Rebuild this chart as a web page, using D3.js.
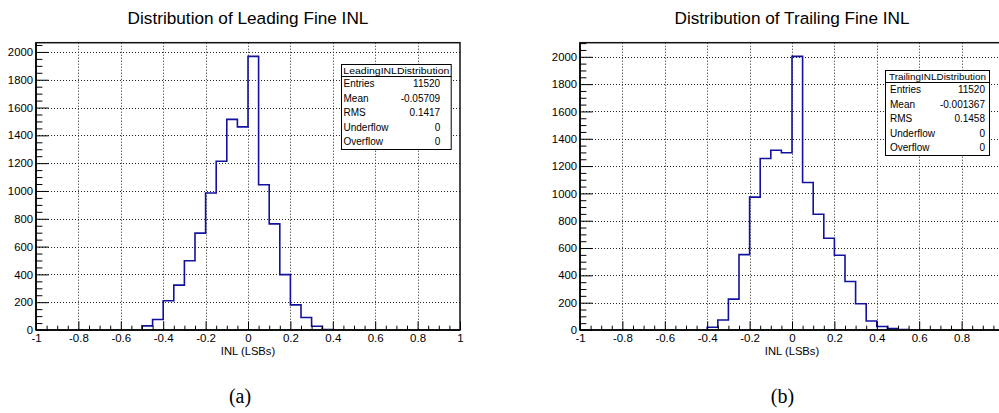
<!DOCTYPE html>
<html>
<head>
<meta charset="utf-8">
<script src="https://cdn.jsdelivr.net/npm/d3@7"></script>
<style>
  body { margin: 0; background: #fff; }
  svg { display: block; font-family: "Liberation Sans", Arial, Helvetica, sans-serif; }
</style>
</head>
<body>
<svg id="chart" width="999" height="413"></svg>
<script>
// ---- Histogram contents: 40 bins of width 0.05 covering [-1, 1] ----
const binLow = -1;
const binWidth = 0.05;

const leadingCounts = [
  0, 0, 0, 0, 0, 0, 0, 0, 0, 0,
  30, 76, 210, 323, 498, 697, 985, 1214, 1515, 1461,
  1968, 1045, 763, 398, 181, 90, 27, 4, 0, 0,
  0, 0, 0, 0, 0, 0, 0, 0, 0, 0
];

const trailingCounts = [
  0, 0, 0, 0, 0, 0, 0, 0, 0, 0,
  0, 0, 20, 73, 226, 552, 973, 1255, 1316, 1297,
  2003, 1080, 847, 672, 547, 355, 192, 66, 26, 10,
  3, 0, 0, 0, 0, 0, 0, 0, 0, 0
];

// ---- Statistics boxes ----
const statLabels = ["Entries", "Mean", "RMS", "Underflow", "Overflow"];
const leadingStats = ["11520", "-0.05709", "0.1417", "0", "0"];
const trailingStats = ["11520", "-0.001367", "0.1458", "0", "0"];

// ---- Axis ticks ----
const xTicks = [-1, -0.8, -0.6, -0.4, -0.2, 0, 0.2, 0.4, 0.6, 0.8, 1];
const xTickLabels = ["-1", "-0.8", "-0.6", "-0.4", "-0.2", "0", "0.2", "0.4", "0.6", "0.8", "1"];
const yTicks = [0, 200, 400, 600, 800, 1000, 1200, 1400, 1600, 1800, 2000];

const titles = ["Distribution of Leading Fine INL", "Distribution of Trailing Fine INL"];
const statNames = ["LeadingINLDistribution", "TrailingINLDistribution"];
const xTitle = "INL (LSBs)";
const captions = ["(a)", "(b)"];

const W = 999;
const svg = d3.select("#chart");

const panels = [
  {
    counts: leadingCounts, stats: leadingStats, title: titles[0], statName: statNames[0], caption: captions[0],
    left: 36, right: 460, top: 42.7, bottom: 330, captionX: 240,
    box: { x: 341, y: 64, w: 109.7, h: 85, titleH: 12, titleLen: 106, labelX: 2.5, valueR: 10.5 }
  },
  {
    counts: trailingCounts, stats: trailingStats, title: titles[1], statName: statNames[1], caption: captions[1],
    left: 580, right: 1004, top: 42.7, bottom: 330, captionX: 782.5,
    box: { x: 885, y: 70, w: 104, h: 85, titleH: 12, titleLen: 97, labelX: 5, valueR: 4 }
  }
];

panels.forEach(p => {
  const g = svg.append("g");
  const nBins = p.counts.length;
  const xMax = binLow + nBins * binWidth;

  const x = d3.scaleLinear().domain([binLow, xMax]).range([p.left, p.right]);
  const yMax = 1.05 * d3.max(p.counts);
  const y = d3.scaleLinear().domain([0, yMax]).range([p.bottom, p.top]);

  // Title
  g.append("text")
    .attr("x", (p.left + p.right) / 2)
    .attr("y", 24)
    .attr("text-anchor", "middle")
    .attr("font-size", 17.2)
    .attr("fill", "#000")
    .text(p.title);

  // Dotted grid at major ticks
  const grid = g.append("g")
    .attr("stroke", "#222")
    .attr("stroke-width", 1)
    .attr("stroke-dasharray", "1,2");
  grid.selectAll("line.gx")
    .data(xTicks.filter(v => v > binLow && v < xMax))
    .join("line")
    .attr("x1", d => Math.round(x(d)) + 0.5).attr("x2", d => Math.round(x(d)) + 0.5)
    .attr("y1", p.top).attr("y2", p.bottom);
  grid.selectAll("line.gy")
    .data(yTicks.filter(v => v > 0))
    .join("line")
    .attr("x1", p.left).attr("x2", p.right)
    .attr("y1", d => Math.round(y(d)) + 0.5).attr("y2", d => Math.round(y(d)) + 0.5);

  // Step outline of the histogram
  const pts = [[binLow, 0]];
  p.counts.forEach((c, i) => {
    const lo = binLow + i * binWidth;
    pts.push([lo, c], [lo + binWidth, c]);
  });
  pts.push([xMax, 0]);

  // Frame
  g.append("rect")
    .attr("x", p.left).attr("y", p.top)
    .attr("width", p.right - p.left).attr("height", p.bottom - p.top)
    .attr("fill", "none").attr("stroke", "#111").attr("stroke-width", 1.5);

  g.append("path")
    .datum(pts)
    .attr("d", d3.line().x(d => x(d[0])).y(d => y(d[1])))
    .attr("fill", "none")
    .attr("stroke", "#12129e")
    .attr("stroke-width", 1.6);

  // Axis lines (thicker on the labelled sides)
  g.append("line")
    .attr("x1", p.left).attr("x2", p.right).attr("y1", p.bottom).attr("y2", p.bottom)
    .attr("stroke", "#111").attr("stroke-width", 2);
  g.append("line")
    .attr("x1", p.left).attr("x2", p.left).attr("y1", p.top).attr("y2", p.bottom)
    .attr("stroke", "#111").attr("stroke-width", 2);

  // Y axis: major and minor ticks pointing into the frame
  const yAxis = d3.axisLeft(y)
    .tickValues(yTicks)
    .tickSizeInner(-12.7).tickSizeOuter(0).tickPadding(3)
    .tickFormat(d3.format("d"));
  const ya = g.append("g").attr("transform", `translate(${p.left},0)`).call(yAxis);
  ya.select(".domain").remove();
  ya.selectAll("text").attr("font-size", 11.3).attr("fill", "#000")
    .attr("font-family", "Liberation Sans, Arial, sans-serif");
  ya.selectAll("line").attr("stroke", "#000");

  const yMinor = d3.range(0, yMax, 50).filter(v => yTicks.indexOf(v) < 0);
  const ym = g.append("g").attr("transform", `translate(${p.left},0)`)
    .call(d3.axisLeft(y).tickValues(yMinor).tickSizeInner(-6.4).tickSizeOuter(0).tickFormat(""));
  ym.select(".domain").remove();
  ym.selectAll("line").attr("stroke", "#000");

  // X axis: major and minor ticks pointing into the frame
  const xAxis = d3.axisBottom(x)
    .tickValues(xTicks)
    .tickSizeInner(-8.6).tickSizeOuter(0).tickPadding(3.4)
    .tickFormat((d, i) => xTickLabels[i]);
  const xa = g.append("g").attr("transform", `translate(0,${p.bottom})`).call(xAxis);
  xa.select(".domain").remove();
  xa.selectAll("text").attr("font-size", 11.5).attr("fill", "#000")
    .attr("font-family", "Liberation Sans, Arial, sans-serif");
  xa.selectAll("line").attr("stroke", "#000");
  // labels whose tick sits past the drawing edge are not shown
  xa.selectAll(".tick").filter(d => x(d) > W - 2).select("text").remove();

  const xMinor = d3.range(0, nBins + 1).map(i => binLow + i * binWidth)
    .filter(v => !xTicks.some(t => Math.abs(t - v) < 1e-9));
  const xm = g.append("g").attr("transform", `translate(0,${p.bottom})`)
    .call(d3.axisBottom(x).tickValues(xMinor).tickSizeInner(-4.3).tickSizeOuter(0).tickFormat(""));
  xm.select(".domain").remove();
  xm.selectAll("line").attr("stroke", "#000");

  // X axis title
  g.append("text")
    .attr("x", (p.left + p.right) / 2)
    .attr("y", 354.7)
    .attr("text-anchor", "middle")
    .attr("font-size", 11.2)
    .attr("fill", "#000")
    .text(xTitle);

  // Statistics box
  const b = p.box;
  const sb = g.append("g");
  sb.append("rect")
    .attr("x", b.x + 0.5).attr("y", b.y + 0.5).attr("width", b.w).attr("height", b.h)
    .attr("fill", "#fff").attr("stroke", "#000").attr("stroke-width", 1);
  sb.append("line")
    .attr("x1", b.x + 0.5).attr("x2", b.x + b.w + 0.5)
    .attr("y1", b.y + b.titleH + 0.5).attr("y2", b.y + b.titleH + 0.5)
    .attr("stroke", "#000").attr("stroke-width", 1);
  sb.append("text")
    .attr("x", b.x + b.w / 2 + 0.5)
    .attr("y", b.y + 9.6)
    .attr("text-anchor", "middle")
    .attr("font-size", 9.6)
    .attr("textLength", b.titleLen)
    .attr("lengthAdjust", "spacingAndGlyphs")
    .attr("fill", "#000")
    .text(p.statName);
  const rowH = (b.h - b.titleH) / statLabels.length;
  statLabels.forEach((lab, i) => {
    const cy = b.y + b.titleH + rowH * (i + 0.5);
    sb.append("text")
      .attr("x", b.x + b.labelX)
      .attr("y", cy + 3.6)
      .attr("font-size", 10)
      .attr("fill", "#000")
      .text(lab);
    sb.append("text")
      .attr("x", b.x + b.w - b.valueR)
      .attr("y", cy + 3.6)
      .attr("text-anchor", "end")
      .attr("font-size", 10)
      .attr("fill", "#000")
      .text(p.stats[i]);
  });

  // Sub-figure caption
  g.append("text")
    .attr("x", p.captionX)
    .attr("y", 403)
    .attr("text-anchor", "middle")
    .attr("font-family", "Liberation Serif, 'Times New Roman', serif")
    .attr("font-size", 20)
    .attr("fill", "#000")
    .text(p.caption);
});
</script>
</body>
</html>
